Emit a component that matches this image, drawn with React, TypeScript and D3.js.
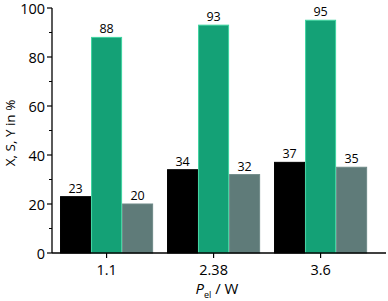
import React from 'react';
import * as d3 from 'd3';

const powers = ['1.1', '2.38', '3.6'];
const series = ['X', 'S', 'Y'];
const conversion = [23, 34, 37];
const selectivity = [88, 93, 95];
const yieldValues = [20, 32, 35];
const yTicks = [0, 20, 40, 60, 80, 100];
const yMinorTicks = [10, 30, 50, 70, 90];

const colors = ['#000000', '#14a176', '#5f7b79'];
const strokes = ['#000000', '#3fd3a0', '#6f8a88'];

const width = 388;
const height = 301;
const font = '"Open Sans", "Noto Sans", sans-serif';

export default function App() {
    const values = [conversion, selectivity, yieldValues];

    const x = d3.scaleBand<string>()
        .domain(powers)
        .range([52, 385])
        .paddingInner(0.13)
        .paddingOuter(0.121)
        .align(0.31);

    const xInner = d3.scaleBand<string>()
        .domain(series)
        .range([0, x.bandwidth()])
        .padding(0);

    const y = d3.scaleLinear().domain([0, 100]).range([253, 8]);

    return (
        <svg width={width} height={height} style={{ position: 'absolute', left: 0, top: 0 }}
             fontFamily={font}>
            {powers.map((p, i) => (
                <g key={p} transform={'translate(' + x(p) + ',0)'}>
                    {series.map((s, j) => {
                        const v = values[j][i];
                        const bx = xInner(s)!;
                        const bw = xInner.bandwidth();
                        return (
                            <g key={s}>
                                <rect x={bx + 0.5} y={y(v)} width={bw - 1} height={y(0) - y(v)}
                                      fill={colors[j]} stroke={strokes[j]} strokeWidth={1} />
                                <text x={bx + bw / 2} y={y(v) - 4} textAnchor="middle"
                                      fontSize={12.5} fill="#000">{v}</text>
                            </g>
                        );
                    })}
                </g>
            ))}

            {/* y axis */}
            <line x1={52} x2={52} y1={y(100)} y2={y(0)} stroke="#000" strokeWidth={1.3} />
            {yTicks.map(t => (
                <g key={t}>
                    <line x1={47} x2={52} y1={y(t)} y2={y(t)} stroke="#000" strokeWidth={1.2} />
                    <text x={45} y={y(t) + 1} dy="0.35em" textAnchor="end" fontSize={14.5}>{t}</text>
                </g>
            ))}
            {yMinorTicks.map(t => (
                <line key={t} x1={49} x2={52} y1={y(t)} y2={y(t)} stroke="#000" strokeWidth={1} />
            ))}
            <text transform={'translate(15,' + 133 + ') rotate(-90)'} textAnchor="middle" fontSize={13.5}>
                X, S, Y in %
            </text>

            {/* x axis */}
            <line x1={52} x2={386} y1={y(0)} y2={y(0)} stroke="#000" strokeWidth={1.3} />
            {powers.map(p => {
                const cx = x(p)! + x.bandwidth() / 2;
                return (
                    <g key={p}>
                        <line x1={cx} x2={cx} y1={y(0)} y2={y(0) + 5} stroke="#000" strokeWidth={1.2} />
                        <text x={cx} y={270} dy="0.35em" textAnchor="middle" fontSize={14.5}>{p}</text>
                    </g>
                );
            })}
            <text x={217} y={294} textAnchor="middle" fontSize={15}>
                <tspan fontStyle="italic">P</tspan>
                <tspan fontSize={9} dy={4}>el</tspan>
                <tspan dy={-4}> / W</tspan>
            </text>
        </svg>
    );
}
